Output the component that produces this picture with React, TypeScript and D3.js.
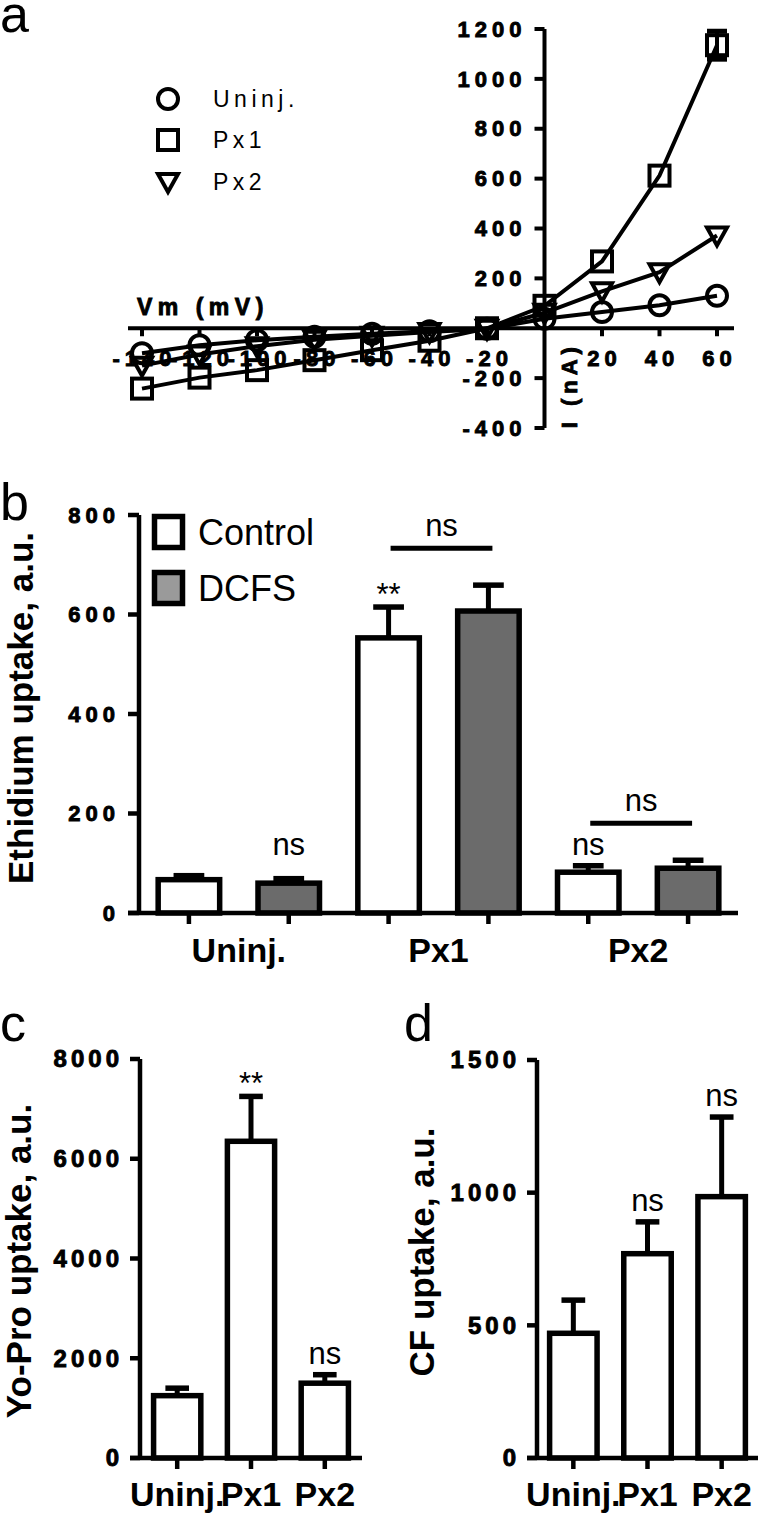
import React from "react";
import * as d3 from "d3";

const FONT = "'Liberation Sans', Arial, Helvetica, sans-serif";

// a: current-voltage relation
const vmSteps = [-140, -120, -100, -80, -60, -40, -20, 0, 20, 40, 60];
const ivUninj = [-100, -68, -48, -34, -22, -12, -2, 38, 65, 92, 130];
const ivPx1 = [-242, -198, -168, -128, -88, -50, 0, 90, 268, 612, 1135];
const ivPx1Err = [0, 0, 0, 0, 0, 0, 0, 0, 0, 0, 56];
const ivPx2 = [-150, -105, -72, -46, -30, -15, -2, 62, 148, 225, 372];
const ivNames = ["Uninj.", "Px1", "Px2"];
const ivXTicks = [-140, -120, -100, -80, -60, -40, -20, 20, 40, 60];
const ivYTicks = [-400, -200, 200, 400, 600, 800, 1000, 1200];

// b: ethidium uptake
const ethGroups = ["Uninj.", "Px1", "Px2"];
const ethSeries = ["Control", "DCFS"];
const ethControl = [67, 553, 82];
const ethControlSem = [8, 62, 13];
const ethDcfs = [60, 607, 90];
const ethDcfsSem = [9, 52, 16];
const ethControlMarks = ["", "**", "ns"];
const ethDcfsMarks = ["ns", "", ""];
const ethPairMarks = ["", "ns", "ns"];
const ethTicks = [0, 200, 400, 600, 800];

// c: Yo-Pro uptake
const yoCats = ["Uninj.", "Px1", "Px2"];
const yoVals = [1250, 6350, 1500];
const yoSem = [150, 900, 170];
const yoMarks = ["", "**", "ns"];
const yoTicks = [0, 2000, 4000, 6000, 8000];

// d: CF uptake
const cfCats = ["Uninj.", "Px1", "Px2"];
const cfVals = [470, 770, 985];
const cfSem = [125, 120, 300];
const cfMarks = ["", "ns", "ns"];
const cfTicks = [0, 500, 1000, 1500];

// heavy, spaced tick numbers (GraphPad look)
const tickStyle = (size: number, ls: number) => ({
  fontFamily: FONT,
  fontWeight: 700,
  fontSize: size,
  letterSpacing: ls,
  stroke: "#000",
  strokeWidth: 0.9,
});

const Marker = ({ kind, cx, cy }: { kind: number; cx: number; cy: number }) => {
  if (kind === 0)
    return <circle cx={cx} cy={cy} r={10} fill="none" stroke="#000" strokeWidth={4} />;
  if (kind === 1)
    return <rect x={cx - 10} y={cy - 10} width={20} height={20} fill="none" stroke="#000" strokeWidth={4} />;
  return (
    <path
      d={`M${cx - 10},${cy - 8}L${cx + 10},${cy - 8}L${cx},${cy + 10}Z`}
      fill="none"
      stroke="#000"
      strokeWidth={4}
    />
  );
};

const PanelA = () => {
  const x = d3.scaleLinear().domain([-140, 60]).range([142, 717]);
  const y = d3.scaleLinear().domain([-400, 1200]).range([428, 29]);
  const x0 = x(0);
  const y0 = y(0);
  const line = d3
    .line<number>()
    .x((_, i) => x(vmSteps[i]))
    .y((d) => y(d));
  const series = [ivUninj, ivPx1, ivPx2];
  const tk = tickStyle(22, 5);
  const legendY = [99, 140, 182];

  return (
    <g>
      <text x={0} y={32} fontFamily={FONT} fontSize={52}>a</text>
      <line x1={x(-140) - 14} x2={x(60) + 17} y1={y0} y2={y0} stroke="#000" strokeWidth={4} />
      <line x1={x0} x2={x0} y1={y(1200)} y2={y(-400)} stroke="#000" strokeWidth={4} />
      {ivYTicks.map((t) => (
        <g key={t}>
          <line x1={x0 - 10} x2={x0} y1={y(t)} y2={y(t)} stroke="#000" strokeWidth={4} />
          <text x={x0 - 18} y={y(t)} dy="0.35em" textAnchor="end" style={tk}>{String(t)}</text>
        </g>
      ))}
      {ivXTicks.map((t) => (
        <g key={t}>
          <line x1={x(t)} x2={x(t)} y1={y0} y2={y0 + 8} stroke="#000" strokeWidth={4} />
          <text x={x(t) + 2.5} y={y0 + 38} textAnchor="middle" style={tk}>{String(t)}</text>
        </g>
      ))}
      <text x={x(-140) - 5} y={y0 - 13} style={tickStyle(23, 5.5)}>Vm (mV)</text>
      <text transform={`translate(${x0 + 32},${y0 + 57}) rotate(-90)`} textAnchor="middle" style={tk}>
        I (nA)
      </text>

      {series.map((s, k) => (
        <path key={k} d={line(s) || ""} fill="none" stroke="#000" strokeWidth={4} />
      ))}
      {ivPx1Err.map((e, i) =>
        e > 0 ? (
          <g key={i}>
            <line x1={x(vmSteps[i])} x2={x(vmSteps[i])} y1={y(ivPx1[i] - e)} y2={y(ivPx1[i] + e)} stroke="#000" strokeWidth={4} />
            <line x1={x(vmSteps[i]) - 10} x2={x(vmSteps[i]) + 10} y1={y(ivPx1[i] + e)} y2={y(ivPx1[i] + e)} stroke="#000" strokeWidth={5} />
            <line x1={x(vmSteps[i]) - 10} x2={x(vmSteps[i]) + 10} y1={y(ivPx1[i] - e)} y2={y(ivPx1[i] - e)} stroke="#000" strokeWidth={5} />
          </g>
        ) : null
      )}
      {series.map((s, k) =>
        s.map((v, i) => <Marker key={`${k}-${i}`} kind={k} cx={x(vmSteps[i])} cy={y(v)} />)
      )}

      {ivNames.map((n, k) => (
        <g key={n}>
          <Marker kind={k} cx={168} cy={legendY[k]} />
          <text x={213} y={legendY[k]} dy="0.36em" fontFamily={FONT} fontSize={23} style={{ letterSpacing: 4.5 }}>
            {n}
          </text>
        </g>
      ))}
    </g>
  );
};

const ErrBar = ({ cx, yTop, yErr, cap }: { cx: number; yTop: number; yErr: number; cap: number }) => (
  <g>
    <line x1={cx} x2={cx} y1={yTop} y2={yErr} stroke="#000" strokeWidth={5} />
    <line x1={cx - cap / 2} x2={cx + cap / 2} y1={yErr} y2={yErr} stroke="#000" strokeWidth={5.5} />
  </g>
);

const Mark = ({ x, y, txt }: { x: number; y: number; txt: string }) =>
  txt ? (
    <text x={x} y={txt === "ns" ? y - 11 : y - 2} textAnchor="middle" fontFamily={FONT} fontSize={31}>
      {txt}
    </text>
  ) : null;

const PanelB = () => {
  const x0 = d3.scaleBand().domain(ethGroups).range([139, 738]).paddingInner(0).paddingOuter(0);
  const x1 = d3
    .scaleBand()
    .domain(ethSeries)
    .range([0, x0.bandwidth()])
    .paddingInner(0.384)
    .paddingOuter(0.192);
  const y = d3.scaleLinear().domain([0, 800]).range([913, 515]);
  const bw = x1.bandwidth();
  const vals = [ethControl, ethDcfs];
  const sems = [ethControlSem, ethDcfsSem];
  const marks = [ethControlMarks, ethDcfsMarks];
  const fills = ["#fff", "#6b6b6b"];
  const legendFills = ["#fff", "#9a9a9a"];
  const axX = x0.range()[0];
  const tk = tickStyle(22, 5);
  const cx = (g: string, s: string) => (x0(g) || 0) + (x1(s) || 0) + bw / 2;
  // the single "ns" labels share one level
  const nsLevel = d3.min(
    ethGroups.flatMap((g, gi) =>
      ethSeries.map((s, si) => (marks[si][gi] === "ns" ? y(vals[si][gi] + sems[si][gi]) : Infinity))
    )
  ) as number;

  return (
    <g>
      <text x={0} y={520} fontFamily={FONT} fontSize={52}>b</text>
      {ethGroups.map((g, gi) =>
        ethSeries.map((s, si) => {
          const v = vals[si][gi];
          const e = sems[si][gi];
          const c = cx(g, s);
          const m = marks[si][gi];
          return (
            <g key={g + s}>
              <ErrBar cx={c} yTop={y(v)} yErr={y(v + e)} cap={bw / 2} />
              <rect x={c - bw / 2} y={y(v)} width={bw} height={y(0) - y(v)} fill={fills[si]} stroke="#000" strokeWidth={5.5} />
              <Mark x={c} y={m === "ns" ? nsLevel : y(v + e)} txt={m} />
            </g>
          );
        })
      )}
      {ethGroups.map((g, gi) => {
        if (!ethPairMarks[gi]) return null;
        const top = d3.min(ethSeries.map((s, si) => y(vals[si][gi] + sems[si][gi]))) as number;
        const ly = top - 37;
        const a = cx(g, ethSeries[0]);
        const b = cx(g, ethSeries[1]);
        return (
          <g key={g}>
            <line x1={a + 2} x2={b + 4} y1={ly} y2={ly} stroke="#000" strokeWidth={5} />
            <text x={(a + b) / 2 + 3} y={ly - 12} textAnchor="middle" fontFamily={FONT} fontSize={31}>
              {ethPairMarks[gi]}
            </text>
          </g>
        );
      })}
      <line x1={axX} x2={axX} y1={y(800)} y2={y(0)} stroke="#000" strokeWidth={4.5} />
      <line x1={axX - 11} x2={x0.range()[1]} y1={y(0)} y2={y(0)} stroke="#000" strokeWidth={4.5} />
      {ethTicks.map((t) => (
        <g key={t}>
          <line x1={axX - 11} x2={axX} y1={y(t)} y2={y(t)} stroke="#000" strokeWidth={4.5} />
          <text x={axX - 24 + 5} y={y(t)} dy="0.35em" textAnchor="end" style={tk}>{String(t)}</text>
        </g>
      ))}
      {ethGroups.map((g) =>
        ethSeries.map((s) => (
          <line key={g + s} x1={cx(g, s)} x2={cx(g, s)} y1={y(0)} y2={y(0) + 11} stroke="#000" strokeWidth={4.5} />
        ))
      )}
      {ethGroups.map((g) => (
        <text key={g} x={(x0(g) || 0) + x0.bandwidth() / 2} y={962} textAnchor="middle" fontFamily={FONT} fontWeight={700} fontSize={34}>
          {g}
        </text>
      ))}
      <text transform={`translate(33,708) rotate(-90)`} textAnchor="middle" fontFamily={FONT} fontWeight={700} fontSize={35}>
        Ethidium uptake, a.u.
      </text>
      {ethSeries.map((s, si) => (
        <g key={s}>
          <rect x={154.5} y={516.5 + si * 56} width={28} height={31} fill={legendFills[si]} stroke="#000" strokeWidth={5.5} />
          <text x={198} y={545 + si * 56} fontFamily={FONT} fontSize={36}>{s}</text>
        </g>
      ))}
    </g>
  );
};

type SimpleProps = {
  letter: string;
  letterX: number;
  cats: string[];
  vals: number[];
  sem: number[];
  marks: string[];
  ticks: number[];
  axisX: number;
  axisEnd: number;
  yTop: number;
  padOuter: number;
  label: string;
  labelX: number;
  labelY: number;
};

const SimpleBars = (p: SimpleProps) => {
  const x = d3
    .scaleBand()
    .domain(p.cats)
    .range([p.axisX, p.axisEnd])
    .paddingInner(0.36)
    .paddingOuter(p.padOuter);
  const max = p.ticks[p.ticks.length - 1];
  const y = d3.scaleLinear().domain([0, max]).range([1458, p.yTop]);
  const bw = x.bandwidth();
  const tk = tickStyle(24, 4);
  return (
    <g>
      <text x={p.letterX} y={1041} fontFamily={FONT} fontSize={52}>{p.letter}</text>
      {p.cats.map((c, i) => {
        const cx = (x(c) || 0) + bw / 2;
        return (
          <g key={c}>
            <ErrBar cx={cx} yTop={y(p.vals[i])} yErr={y(p.vals[i] + p.sem[i])} cap={bw / 2} />
            <rect x={cx - bw / 2} y={y(p.vals[i])} width={bw} height={y(0) - y(p.vals[i])} fill="#fff" stroke="#000" strokeWidth={5.5} />
            <Mark x={cx} y={y(p.vals[i] + p.sem[i])} txt={p.marks[i]} />
            <line x1={cx} x2={cx} y1={y(0)} y2={y(0) + 11} stroke="#000" strokeWidth={4.5} />
            <text x={cx} y={1506} textAnchor="middle" fontFamily={FONT} fontWeight={700} fontSize={34}>{c}</text>
          </g>
        );
      })}
      <line x1={p.axisX} x2={p.axisX} y1={y(max)} y2={y(0)} stroke="#000" strokeWidth={4.5} />
      <line x1={p.axisX - 10} x2={p.axisEnd} y1={y(0)} y2={y(0)} stroke="#000" strokeWidth={4.5} />
      {p.ticks.map((t) => (
        <g key={t}>
          <line x1={p.axisX - 10} x2={p.axisX} y1={y(t)} y2={y(t)} stroke="#000" strokeWidth={4.5} />
          <text x={p.axisX - 21 + 4} y={y(t)} dy="0.35em" textAnchor="end" style={tk}>{String(t)}</text>
        </g>
      ))}
      <text transform={`translate(${p.labelX},${p.labelY}) rotate(-90)`} textAnchor="middle" fontFamily={FONT} fontWeight={700} fontSize={35}>
        {p.label}
      </text>
    </g>
  );
};

const App = () => (
  <div style={{ position: "absolute", left: 0, top: 0 }}>
    <svg width={760} height={1514} viewBox="0 0 760 1514" style={{ display: "block", background: "#fff" }}>
      <rect width={760} height={1514} fill="#fff" />
      <PanelA />
      <PanelB />
      <SimpleBars
        letter="c"
        letterX={0}
        cats={yoCats}
        vals={yoVals}
        sem={yoSem}
        marks={yoMarks}
        ticks={yoTicks}
        axisX={140}
        axisEnd={362}
        yTop={1059}
        padOuter={0.184}
        label="Yo-Pro uptake, a.u."
        labelX={31}
        labelY={1261}
      />
      <SimpleBars
        letter="d"
        letterX={404}
        cats={cfCats}
        vals={cfVals}
        sem={cfSem}
        marks={cfMarks}
        ticks={cfTicks}
        axisX={537}
        axisEnd={758}
        yTop={1060}
        padOuter={0.17}
        label="CF uptake, a.u."
        labelX={434}
        labelY={1252}
      />
    </svg>
  </div>
);

export default App;
